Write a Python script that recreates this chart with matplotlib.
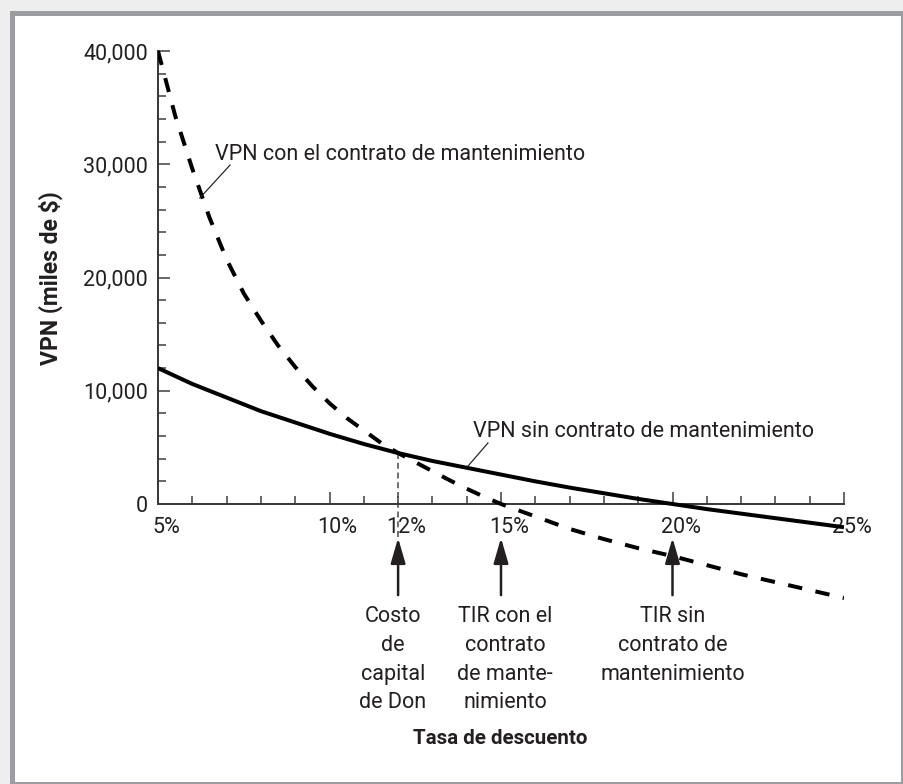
import matplotlib
matplotlib.use("Agg")
import matplotlib.pyplot as plt
import matplotlib.transforms as mtransforms
from matplotlib.patches import Rectangle
from matplotlib.ticker import MultipleLocator, FixedLocator

plt.rcParams['font.family'] = ['Roboto', 'DejaVu Sans']

# ---------------- data (NPV in thousands of $ -> plotted as 'miles de $') ----------------
rate_con = [5.0, 5.5, 6.0, 6.5, 7.0, 7.5, 8.0, 8.5, 9.0, 9.5, 10.0, 10.5, 11.0, 11.5,
            12.0, 12.5, 13.0, 13.5, 14.0, 14.5, 15.0, 16, 17, 18, 19, 20, 21, 22, 23, 24, 25]
npv_con = [40000, 34300, 29600, 25300, 21600, 18600, 16200, 14000, 12100, 10400, 8900,
           7600, 6500, 5400, 4500, 3700, 2900, 2100, 1350, 650, 0, -1100, -2200, -3100,
           -3900, -4600, -5400, -6200, -6900, -7600, -8300]

rate_sin = [5, 6, 7, 8, 9, 10, 11, 12, 13, 14, 15, 16, 17, 18, 19, 20, 21, 22, 23, 24, 25]
npv_sin = [12000, 10600, 9400, 8200, 7200, 6200, 5300, 4500, 3800, 3200, 2600, 2000,
           1450, 950, 450, 0, -450, -850, -1250, -1650, -2050]

ytick_values = [0, 10000, 20000, 30000, 40000]
ytick_labels = ["0", "10,000", "20,000", "30,000", "40,000"]
ytick_minor = [2000, 4000, 6000, 8000, 12000, 14000, 16000, 18000, 22000, 24000, 26000,
               28000, 32000, 34000, 36000, 38000]
xtick_values = [5, 10, 12, 15, 20, 25]
xtick_labels = ["5%", "10%", "12%", "15%", "20%", "25%"]

cost_of_capital = 12
irr_con = 15
irr_sin = 20
npv_at_cost = 4500

label_con = "VPN con el contrato de mantenimiento"
label_sin = "VPN sin contrato de mantenimiento"
note_cost = "Costo\nde\ncapital\nde Don"
note_irr_con = "TIR con el\ncontrato\nde mante-\nnimiento"
note_irr_sin = "TIR sin\ncontrato de\nmantenimiento"
xlabel = "Tasa de descuento"
ylabel = "VPN (miles de $)"

# ---------------- styling ----------------
TXT = '#231f20'
AX = '#3a3a3a'
FS = 15.5

W, H, DPI = 904, 784, 100
fig = plt.figure(figsize=(W / DPI, H / DPI), dpi=DPI)
fig.patch.set_facecolor('#eeeeee')

px = lambda v: v / DPI * 72  # px -> pt
frame = Rectangle((12.5 / W, 0.5 / H), (903.5 - 12.5) / W, (771.5 - 0.5) / H,
                  transform=fig.transFigure, facecolor='white', edgecolor='#9c9da1',
                  linewidth=px(5), zorder=-10)
fig.add_artist(frame)

ax = fig.add_axes([158 / W, 166.75 / H, 686 / W, 577.55 / H])
ax.set_facecolor('none')
ax.set_xlim(5, 25)
ax.set_ylim(-10000, 41000)

for s in ['top', 'right']:
    ax.spines[s].set_visible(False)
ax.spines['left'].set_bounds(0, 40000)
ax.spines['bottom'].set_position(('data', 0))
ax.spines['bottom'].set_bounds(5, 25)
for s in ['left', 'bottom']:
    ax.spines[s].set_color(AX)
    ax.spines[s].set_linewidth(px(2))

ax.set_yticks(ytick_values)
ax.set_yticklabels(ytick_labels)
ax.yaxis.set_minor_locator(FixedLocator(ytick_minor))
ax.set_xticks(xtick_values)
ax.set_xticklabels(xtick_labels)
ax.xaxis.set_minor_locator(MultipleLocator(1))

ax.tick_params(axis='both', which='major', direction='in', length=px(12), width=px(1.5),
               color=AX, labelsize=FS, labelcolor=TXT)
ax.tick_params(axis='both', which='minor', direction='in', length=px(8), width=px(1.5),
               color=AX)
ax.tick_params(axis='y', which='major', pad=px(10))
ax.tick_params(axis='x', which='major', pad=px(13))
ax.xaxis.get_major_ticks()[2].tick1line.set_markersize(px(8))

# curves
lw = px(4)
ax.plot(rate_sin, npv_sin, color='black', lw=lw, solid_capstyle='butt', zorder=3)
ax.plot(rate_con, npv_con, color='black', lw=lw, linestyle=(0, (3.6, 3.4)),
        dash_capstyle='butt', zorder=3)

# dashed vertical at cost of capital
ax.plot([cost_of_capital, cost_of_capital], [npv_at_cost, -3000], color='#444444',
        lw=px(1.5), linestyle=(0, (4, 2.5)), zorder=2)

# curve labels with leader lines
ax.text(6.66, 30400, label_con, fontsize=FS, color=TXT, ha='left', va='baseline')
ax.plot([7.10, 6.22], [29930, 27020], color=TXT, lw=px(1.2), zorder=4)
ax.text(14.18, 5920, label_sin, fontsize=FS, color=TXT, ha='left', va='baseline')
ax.plot([14.62, 14.04], [5390, 3360], color=TXT, lw=px(1.2), zorder=4)

# arrows
for r in [cost_of_capital, irr_con, irr_sin]:
    ax.annotate('', xy=(r, -3000), xytext=(r, -8050), xycoords='data', textcoords='data',
                arrowprops=dict(arrowstyle='-|>,head_length=1.1,head_width=0.32',
                                mutation_scale=14, color='#231f20', lw=px(2.5),
                                shrinkA=0, shrinkB=0), annotation_clip=False)

# notes under arrows
for xr, txt in [(11.85, note_cost), (15.12, note_irr_con), (20.0, note_irr_sin)]:
    ax.text(xr, -9050, txt, fontsize=FS, color=TXT, ha='center', va='top',
            linespacing=1.47, clip_on=False)

# axis labels
ax.set_xlabel(xlabel, fontsize=14.8, fontweight='bold', color=TXT)
ax.xaxis.set_label_coords((500 - 158) / 686, (45 - 166.75) / 577.55)
ax.xaxis.label.set_va('center')
ax.set_ylabel(ylabel, fontsize=16.5, fontweight='bold', color=TXT)
ax.yaxis.set_label_coords((51 - 158) / 686, (506 - 166.75) / 577.55)
ax.yaxis.label.set_va('center')

offset = mtransforms.ScaledTranslation(8 / DPI, 0, fig.dpi_scale_trans)
for lab in ax.get_xticklabels():
    lab.set_transform(lab.get_transform() + offset)

fig.savefig('out.png', dpi=DPI, facecolor=fig.get_facecolor())
